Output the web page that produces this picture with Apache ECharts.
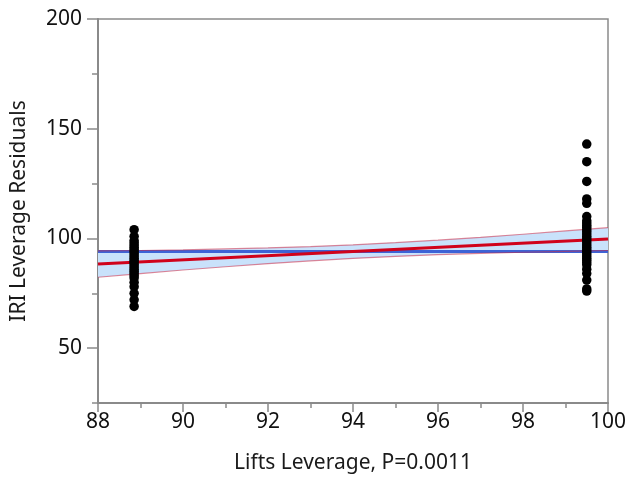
<!DOCTYPE html>
<html><head><meta charset="utf-8">
<script src="https://cdn.jsdelivr.net/npm/echarts@6/dist/echarts.min.js"></script>
<style>html,body{margin:0;padding:0;background:#fff}#c{width:629px;height:480px}</style>
</head><body><div id="c"></div>
<script>
// ---- data ----
const leftX = 88.85;
const leftY = [104, 101, 99, 98, 97, 96, 95, 94, 93, 92, 91, 90, 89, 88, 87, 86, 85, 84, 83, 82, 80, 78, 75, 72, 69];
const rightX = 99.5;
const rightY = [143, 135, 126, 118, 116, 110, 108, 107, 106, 105, 104, 103, 102, 101, 100, 99, 98, 97, 96, 95, 94, 93, 92, 91, 90, 89, 88, 86, 84, 81, 77, 76];
const meanY = 94;
const fitX = [88, 100];
const fitY = [88.3, 99.7];
const bandX = [88, 89, 90, 91, 92, 93, 94, 95, 96, 97, 98, 99, 100];
const bandUpper = [94.3, 94.5, 94.8, 95.2, 95.7, 96.3, 97.1, 98.1, 99.2, 100.5, 101.9, 103.4, 104.9];
const bandLower = [82.3, 84.0, 85.6, 87.1, 88.5, 89.8, 90.9, 91.8, 92.6, 93.2, 93.7, 94.1, 94.5];
const yMajor = [50, 100, 150, 200];
const yMinor = [25, 75, 125, 175];
const xTitle = 'Lifts Leverage, P=0.0011';
const yTitle = 'IRI Leverage Residuals';

const font = 'Noto Sans';
const axisGray = '#8a8a8a';
const pts = [];
leftY.forEach(v => pts.push([leftX, v]));
rightY.forEach(v => pts.push([rightX, v]));

const chart = echarts.init(document.getElementById('c'));
chart.setOption({
  animation: false,
  backgroundColor: '#fff',
  grid: {left: 98, right: 21, top: 19, bottom: 77, containLabel: false, outerBoundsMode: 'none',
         show: true, borderColor: axisGray, borderWidth: 1.5},
  xAxis: [{
    type: 'value', min: 88, max: 100, interval: 2,
    name: xTitle, nameLocation: 'middle', nameGap: 50,
    nameTextStyle: {fontFamily: font, fontSize: 21, color: '#1a1a1a'},
    axisLine: {lineStyle: {color: axisGray, width: 2}},
    axisTick: {length: 9, lineStyle: {color: axisGray, width: 1.5}},
    minorTick: {show: true, splitNumber: 2, length: 5, lineStyle: {color: axisGray, width: 1.5}},
    axisLabel: {fontFamily: font, fontSize: 21, color: '#111', margin: 9},
    splitLine: {show: false}
  }],
  yAxis: [{
    type: 'value', min: 25, max: 200,
    name: yTitle, nameLocation: 'middle', nameGap: 68,
    nameTextStyle: {fontFamily: font, fontSize: 21, color: '#1a1a1a'},
    axisLine: {lineStyle: {color: axisGray, width: 2}},
    axisTick: {customValues: yMajor, length: 11, lineStyle: {color: axisGray, width: 1.5}},
    axisLabel: {customValues: yMajor, fontFamily: font, fontSize: 21, color: '#111', margin: 16},
    splitLine: {show: false}
  }, {
    type: 'value', min: 25, max: 200, position: 'left',
    axisLine: {show: false},
    axisTick: {customValues: yMinor, length: 6, lineStyle: {color: axisGray, width: 1.5}},
    axisLabel: {show: false},
    splitLine: {show: false}
  }],
  series: [
    {type: 'custom', silent: true, z: 1, data: [0],
     renderItem: function (params, api) {
       const up = bandX.map((x, i) => api.coord([x, bandUpper[i]]));
       const lo = bandX.map((x, i) => api.coord([x, bandLower[i]])).reverse();
       return {type: 'polygon', shape: {points: up.concat(lo)}, style: {fill: '#c9e2fb'}};
     }},
    {type: 'line', data: [[88, meanY], [100, meanY]], symbol: 'none',
     lineStyle: {color: '#3d63d6', width: 3}, z: 2},
    {type: 'line', data: bandX.map((x, i) => [x, bandUpper[i]]), symbol: 'none',
     lineStyle: {color: 'rgba(200,40,70,0.55)', width: 1.2}, z: 3},
    {type: 'line', data: bandX.map((x, i) => [x, bandLower[i]]), symbol: 'none',
     lineStyle: {color: 'rgba(200,40,70,0.55)', width: 1.2}, z: 3},
    {type: 'line', data: fitX.map((x, i) => [x, fitY[i]]), symbol: 'none',
     lineStyle: {color: '#d0021b', width: 3}, z: 4},
    {type: 'scatter', data: pts, symbol: 'circle', symbolSize: 9.5,
     itemStyle: {color: '#000', opacity: 1}, z: 5}
  ]
});
</script></body></html>
